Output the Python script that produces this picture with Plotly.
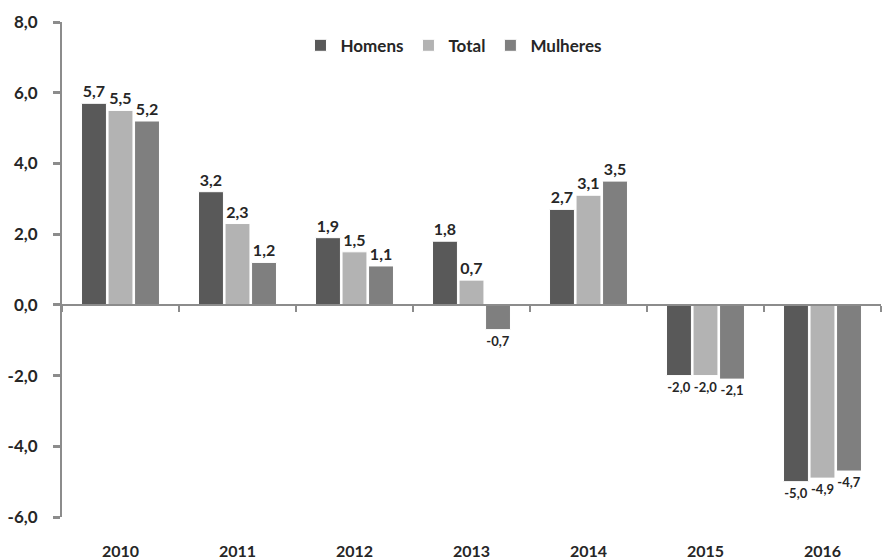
import plotly.graph_objects as go

anos = ["2010", "2011", "2012", "2013", "2014", "2015", "2016"]
homens = [5.7, 3.2, 1.9, 1.8, 2.7, -2.0, -5.0]
total = [5.5, 2.3, 1.5, 0.7, 3.1, -2.0, -4.9]
mulheres = [5.2, 1.2, 1.1, -0.7, 3.5, -2.1, -4.7]
y_ticks = [-6, -4, -2, 0, 2, 4, 6, 8]


def fmt(v):
    return f"{v:.1f}".replace(".", ",")


FONT = "Lato"
TXT = "#262626"
series = [("Homens", homens, "#595959"), ("Total", total, "#b3b3b3"), ("Mulheres", mulheres, "#7f7f7f")]

fig = go.Figure()
for name, vals, col in series:
    fig.add_trace(go.Bar(
        x=anos, y=vals, name=name,
        marker=dict(color=col, line=dict(color="white", width=1)),
        text=[fmt(v) for v in vals], textposition="outside", constraintext="none",
        textfont=dict(family=FONT, size=[16 if v >= 0 else 13 for v in vals],
                      color=TXT, weight="bold"),
        cliponaxis=False,
    ))

ymin, ymax = -6, 8
zero_pos = (0 - ymin) / (ymax - ymin)

fig.update_layout(
    width=883, height=559,
    margin=dict(l=62, r=2, t=22, b=42, autoexpand=False),
    paper_bgcolor="white", plot_bgcolor="white",
    barmode="group", bargap=0.32, bargroupgap=0.06,
    font=dict(family=FONT, size=16, color=TXT, weight="bold"),
    legend=dict(orientation="h", x=0.478, xanchor="center", y=0.952, yanchor="middle",
                font=dict(family=FONT, size=17, color=TXT, weight="bold"),
                bgcolor="rgba(0,0,0,0)", itemwidth=30, traceorder="normal"),
    xaxis=dict(range=[-0.5, 6.5], showline=False, ticks="", showgrid=False,
               zeroline=False, ticklabelstandoff=23, automargin=False,
               tickfont=dict(family=FONT, size=16, color=TXT, weight="bold")),
    xaxis2=dict(overlaying="x", matches="x", anchor="free", position=zero_pos,
                showline=True, linecolor="#8c8c8c", linewidth=2,
                ticks="outside", tickson="boundaries", ticklen=6, tickwidth=2,
                tickcolor="#8c8c8c", showticklabels=False, showgrid=False,
                type="category", range=[-0.5, 6.5], automargin=False),
    yaxis=dict(range=[ymin, ymax], tickvals=y_ticks, ticktext=[fmt(v) for v in y_ticks],
               showline=True, linecolor="#8c8c8c", linewidth=2,
               ticks="outside", ticklen=7, tickwidth=3, tickcolor="#8c8c8c",
               showgrid=False, zeroline=False, automargin=False, ticklabelstandoff=12,
               tickfont=dict(family=FONT, size=17, color=TXT, weight="bold")),
)
# invisible trace to activate xaxis2 (zero line with category boundary ticks)
fig.add_trace(go.Bar(x=anos, y=[None] * len(anos), xaxis="x2", showlegend=False, hoverinfo="skip"))

fig.write_html("out.html", config={"displayModeBar": False},
               post_script="document.body.style.margin='0';document.body.style.overflow='hidden';")
